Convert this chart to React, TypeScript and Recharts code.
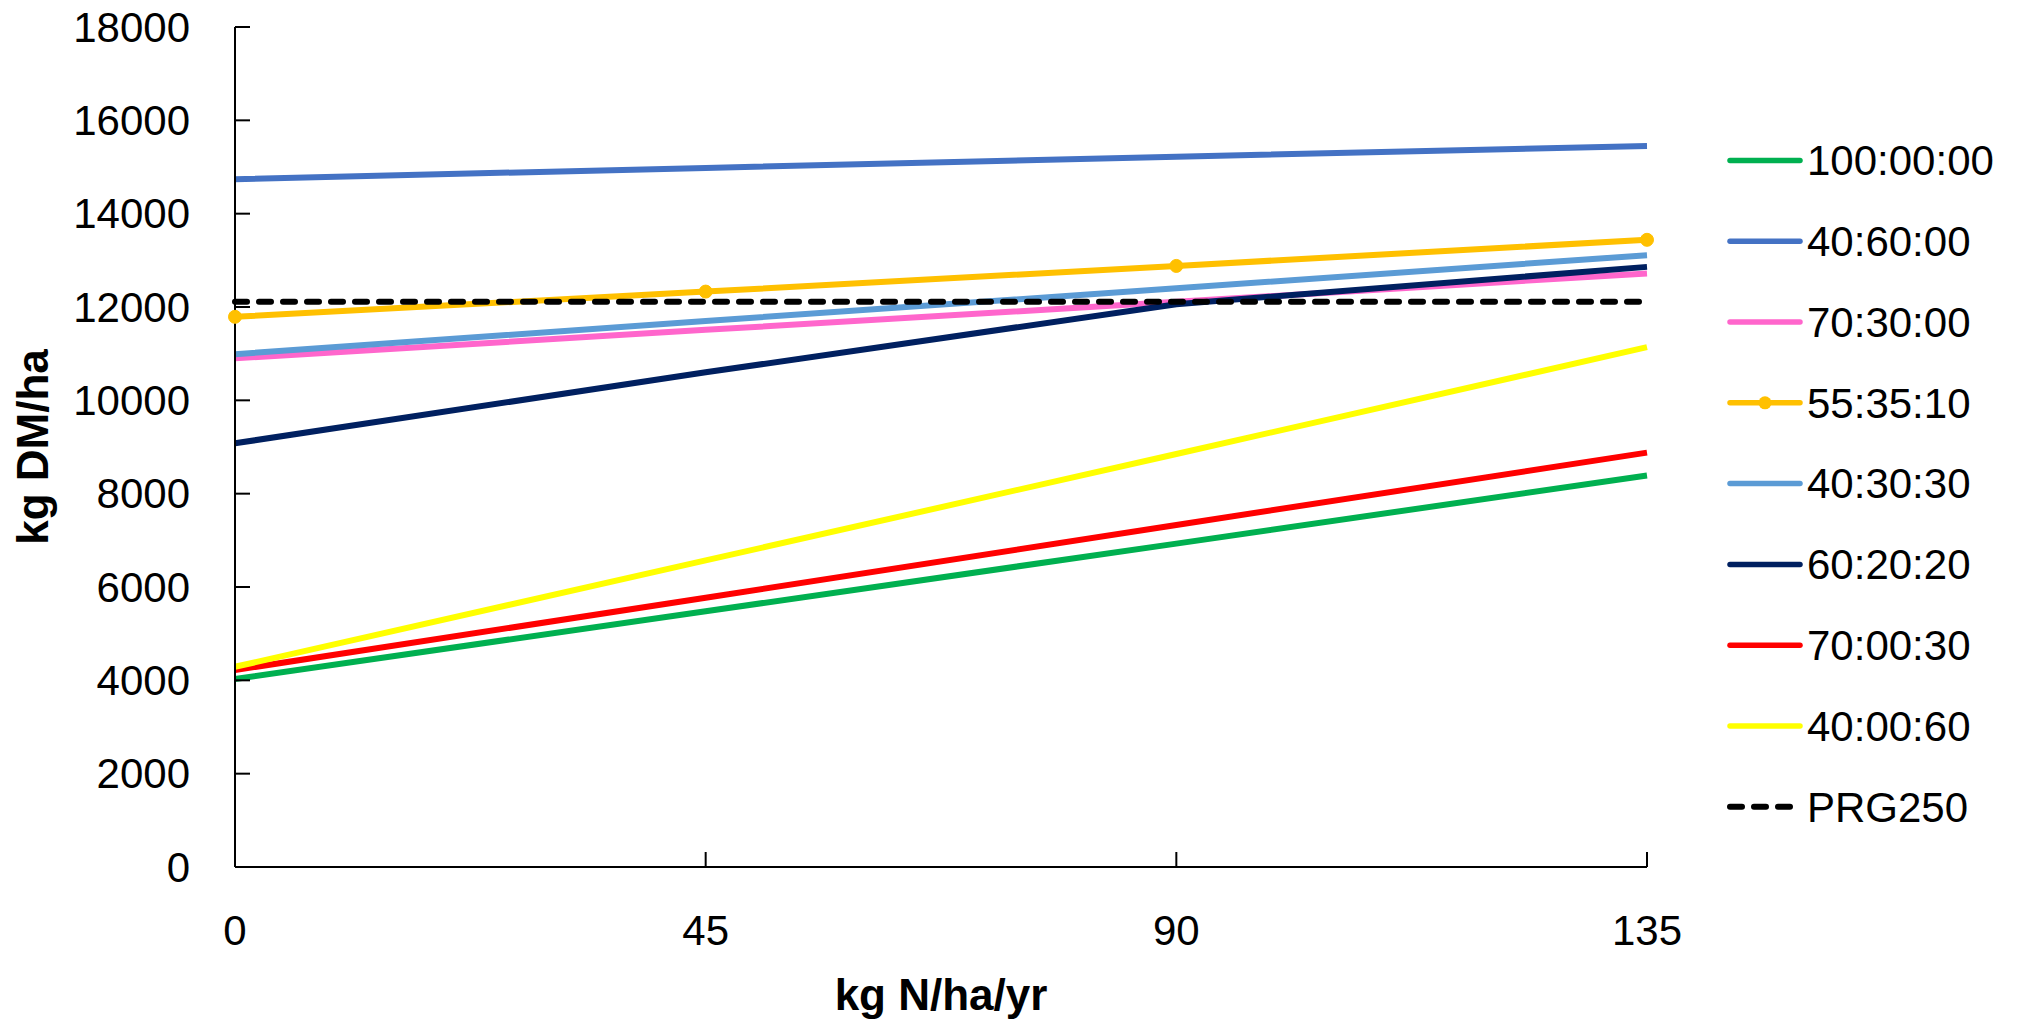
import React from 'react';
import { LineChart, Line, XAxis, YAxis, Legend, Label } from 'recharts';

const nRates = [0, 45, 90, 135];
const s100_00_00 = [4030, 5480, 6930, 8390];
const s40_60_00 = [14740, 14980, 15220, 15450];
const s70_30_00 = [10900, 11510, 12110, 12720];
const s55_35_10 = [11790, 12330, 12880, 13440];
const s40_30_30 = [10990, 11700, 12400, 13110];
const s60_20_20 = [9080, 10600, 12060, 12860];
const s70_00_30 = [4220, 5770, 7330, 8880];
const s40_00_60 = [4290, 6570, 8850, 11140];
const prg250 = [12110, 12110, 12110, 12110];

const xTicks = [0, 45, 90, 135];
const yTicks = [0, 2000, 4000, 6000, 8000, 10000, 12000, 14000, 16000, 18000];

const seriesNames = ['100:00:00', '40:60:00', '70:30:00', '55:35:10', '40:30:30', '60:20:20', '70:00:30', '40:00:60', 'PRG250'];
const seriesValues = [s100_00_00, s40_60_00, s70_30_00, s55_35_10, s40_30_30, s60_20_20, s70_00_30, s40_00_60, prg250];
const seriesColors = ['#00B050', '#4472C4', '#FF66CC', '#FFC000', '#5B9BD5', '#002060', '#FF0000', '#FFFF00', '#000000'];
const seriesDashed = [false, false, false, false, false, false, false, false, true];
const seriesDots = [false, false, false, true, false, false, false, false, false];

const data = nRates.map((n, i) => {
  const row: Record<string, number> = { n };
  seriesNames.forEach((name, k) => {
    row[name] = seriesValues[k][i];
  });
  return row;
});

const FONT = '"Liberation Sans", Arial, sans-serif';
const TICK_LEN = 15;

const YTick = (props: any) => {
  const { x, y, payload } = props;
  return (
    <g>
      <line x1={x} y1={y} x2={x + TICK_LEN} y2={y} stroke="#000" strokeWidth={2} />
      <text x={x - 45} y={y} dy="0.35em" textAnchor="end" fontSize={42} fontFamily={FONT} fill="#000">
        {payload.value}
      </text>
    </g>
  );
};

const XTick = (props: any) => {
  const { x, y, payload } = props;
  return (
    <g>
      <line x1={x} y1={y} x2={x} y2={y - TICK_LEN} stroke="#000" strokeWidth={2} />
      <text x={x} y={y + 63} dy="0.35em" textAnchor="middle" fontSize={42} fontFamily={FONT} fill="#000">
        {payload.value}
      </text>
    </g>
  );
};

const renderLegend = () => {
  const rowH = 80.8;
  return (
    <svg width={300} height={rowH * seriesNames.length} style={{ display: 'block' }}>
      {seriesNames.map((name, k) => {
        const cy = rowH * k + rowH / 2;
        return (
          <g key={name}>
            {seriesDashed[k] ? (
              <line x1={3} y1={cy} x2={70} y2={cy} stroke={seriesColors[k]} strokeWidth={6}
                strokeDasharray="12 12" strokeLinecap="round" />
            ) : (
              <line x1={3} y1={cy} x2={73} y2={cy} stroke={seriesColors[k]} strokeWidth={5.5} strokeLinecap="round" />
            )}
            {seriesDots[k] && <circle cx={38} cy={cy} r={6.5} fill={seriesColors[k]} />}
            <text x={80} y={cy} dy="0.35em" fontSize={42} fontFamily={FONT} fill="#000">
              {name}
            </text>
          </g>
        );
      })}
    </svg>
  );
};

export default function App() {
  return (
    <div style={{ position: 'absolute', left: 0, top: 0, background: '#fff' }}>
      <LineChart width={2034} height={1020} data={data} margin={{ top: 27, right: 387, bottom: 0, left: 0 }}>
        <XAxis
          dataKey="n"
          type="number"
          domain={[0, 135]}
          ticks={xTicks}
          tickSize={0}
          tickMargin={0}
          tickLine={false}
          axisLine={{ stroke: '#000', strokeWidth: 2 }}
          tick={<XTick />}
          height={153}
          interval={0}
        >
          <Label
            content={(p: any) => {
              const vb = p.viewBox;
              return (
                <text x={vb.x + vb.width / 2} y={vb.y + 143} textAnchor="middle" fontSize={44}
                  fontWeight="bold" fontFamily={FONT} fill="#000">
                  kg N/ha/yr
                </text>
              );
            }}
          />
        </XAxis>
        <YAxis
          type="number"
          domain={[0, 18000]}
          ticks={yTicks}
          tickSize={0}
          tickMargin={0}
          tickLine={false}
          axisLine={{ stroke: '#000', strokeWidth: 2 }}
          tick={<YTick />}
          width={235}
          interval={0}
        >
          <Label
            content={(p: any) => {
              const vb = p.viewBox;
              const cx = 33;
              const cy = vb.y + vb.height / 2;
              return (
                <text x={cx} y={cy} dy="0.35em" textAnchor="middle" fontSize={44} fontWeight="bold"
                  fontFamily={FONT} fill="#000" transform={`rotate(-90, ${cx}, ${cy})`}>
                  kg DM/ha
                </text>
              );
            }}
          />
        </YAxis>
        <Legend
          layout="vertical"
          align="center"
          verticalAlign="middle"
          content={renderLegend}
          wrapperStyle={{ left: 1727, top: 120, width: 300 }}
        />
        {seriesNames.map((name, k) => (
          <Line
            key={name}
            type="linear"
            dataKey={name}
            name={name}
            stroke={seriesColors[k]}
            strokeWidth={6}
            strokeDasharray={seriesDashed[k] ? '12 12' : undefined}
            strokeLinecap={seriesDashed[k] ? 'round' : 'butt'}
            dot={seriesDots[k] ? { r: 6.5, fill: seriesColors[k], stroke: seriesColors[k], strokeWidth: 1 } : false}
            activeDot={false}
            isAnimationActive={false}
          />
        ))}
      </LineChart>
    </div>
  );
}
